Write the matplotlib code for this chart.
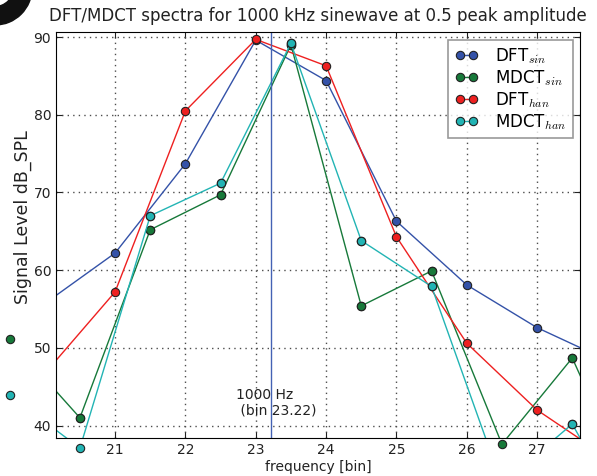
#!/usr/bin/env python3
import numpy as np
import matplotlib
matplotlib.use('Agg')
import matplotlib.pyplot as plt
from matplotlib.patches import Wedge
from matplotlib.transforms import IdentityTransform

# spectra (dB SPL)
bins_dft = [20, 21, 22, 23, 24, 25, 26, 27, 28]
dft_sin = [55.7, 62.2, 73.7, 89.6, 84.4, 66.3, 58.1, 52.6, 48.4]
dft_han = [46.7, 57.2, 80.5, 89.7, 86.3, 64.3, 50.6, 42.0, 35.9]

bins_mdct = [19.5, 20.5, 21.5, 22.5, 23.5, 24.5, 25.5, 26.5, 27.5, 28.5]
mdct_sin = [51.1, 41.0, 65.2, 69.7, 89.0, 55.4, 59.9, 37.6, 48.7, 28.6]
mdct_han = [43.9, 37.1, 67.0, 71.2, 89.2, 63.8, 57.9, 32.5, 40.2, 24.0]

tone_bin = 23.22
tone_label = "1000 Hz\n (bin 23.22)"

plt.rcParams['mathtext.fontset'] = 'cm'
plt.rcParams['xtick.direction'] = 'in'
plt.rcParams['ytick.direction'] = 'in'
plt.rcParams['xtick.top'] = True
plt.rcParams['ytick.right'] = True


def main():
    fig = plt.figure(figsize=(5.97, 4.76), dpi=100)
    ax = fig.add_axes([56/597, 38/476, 524/597, 406/476])

    series = [
        (bins_dft, dft_sin, '#3452a8', r'DFT$_{sin}$', True),
        (bins_mdct, mdct_sin, '#17793a', r'MDCT$_{sin}$', False),
        (bins_dft, dft_han, '#ee2020', r'DFT$_{han}$', True),
        (bins_mdct, mdct_han, '#22b4b4', r'MDCT$_{han}$', False),
    ]
    for x, y, c, lab, clip in series:
        ax.plot(x, y, '-o', color=c, lw=1, ms=6, mfc=c, mec='#222222',
                mew=0.8, label=lab)
        if not clip:
            # half-bin markers are left unclipped in the original
            ax.plot(x, y, 'o', color=c, ms=6, mec='#222222', mew=0.8,
                    clip_on=False)

    ax.axvline(tone_bin, color='#4462b4', lw=1)
    ax.text(tone_bin + 0.07, 41.0, tone_label, ha='center', va='bottom',
            multialignment='left', fontsize=10, color='#222222')

    ax.set_xlim(20.16, 27.61)
    ax.set_ylim(38.4, 90.65)
    ax.set_xticks(range(21, 28))
    ax.set_yticks(range(40, 91, 10))
    ax.tick_params(labelsize=10, length=4, colors='#222222')
    ax.grid(True, linestyle=(0, (1, 3)), color='0.3', lw=1)

    ax.set_title('DFT/MDCT spectra for 1000 kHz sinewave at 0.5 peak amplitude',
                 fontsize=12, color='#222222', pad=8)
    ax.set_xlabel('frequency [bin]', fontsize=10, color='#222222', labelpad=2)
    ax.set_ylabel('Signal Level dB_SPL', fontsize=12.5, color='#222222')
    ax.yaxis.set_label_coords(-0.046, 0.545)

    leg = ax.legend(loc='upper right', fontsize=12, numpoints=2,
                    handlelength=1.4, handletextpad=1.0, fancybox=False,
                    borderaxespad=0.45, labelspacing=0.12)
    leg.get_frame().set_edgecolor('0.5')
    leg.get_frame().set_linewidth(1.2)

    # bit of a neighbouring graphic cut off at the top left corner
    fig.add_artist(Wedge((-5, 488), 37, 0, 360, width=18.5, color='#111111',
                         transform=IdentityTransform()))

    fig.savefig('out.png', dpi=100)
    plt.close(fig)


if __name__ == "__main__":
    main()
